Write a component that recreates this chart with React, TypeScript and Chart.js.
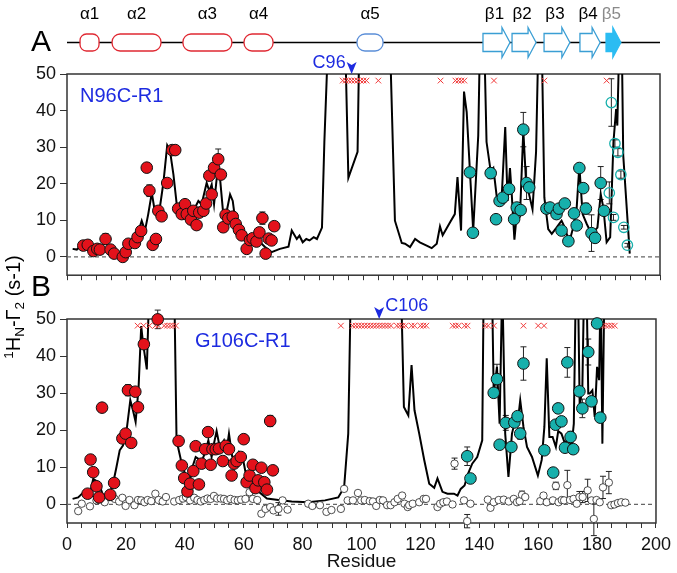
import React, { useEffect, useRef } from 'react';
import { Chart, registerables } from 'chart.js';

Chart.register(...registerables);

const FONT = "'Liberation Sans', Arial, Helvetica, sans-serif";
const BLUE = '#1d2be0';
const RED = '#e3121b';
const CROSS_RED = '#f03a3a';
const TEAL = '#17b0ac';
const HELIX_RED = '#e02832';
const HELIX_BLUE = '#5b8ed8';
const STRAND_BLUE = '#3a9ed4';
const STRAND_FILL = '#2bbcf2';

// ---------- axis ticks ----------
const xLabelTicks = [0, 20, 40, 60, 80, 100, 120, 140, 160, 180, 200];
const xMinorStep = 5;
const yTicks = [0, 10, 20, 30, 40, 50];

// ---------- secondary structure (residue ranges) ----------
const helixLabels = ['α1', 'α2', 'α3', 'α4', 'α5'];
const helixStart = [4.4, 15.2, 39.1, 59.7, 97.8];
const helixEnd = [10.8, 31.7, 55.6, 69.5, 106.6];
const strandLabels = ['β1', 'β2', 'β3', 'β4', 'β5'];
const strandStart = [140.3, 150.1, 160.9, 173.0, 181.8];
const strandEnd = [149.4, 158.2, 169.6, 179.8, 186.8];

// ---------- Panel A: N96C-R1 ----------
const lineA: [number, number][] = [
  [1.9, 2.2], [3.3, 2.0], [5.5, 3.6], [7.8, 2.7], [10.0, 1.8], [12.3, 2.2], [14.5, 1.6], [16.8, 1.3],
  [18.8, 0.2], [20.1, 2.2], [21.8, 4.0], [23.5, 5.4], [25.2, 9.9], [26.3, 7.2], [27.4, 11.7], [28.6, 17.5],
  [29.7, 12.1], [31.0, 11.7], [32.5, 20.2], [33.8, 30.5], [34.7, 29.2], [35.9, 22.5], [37.0, 14.4],
  [38.7, 12.6], [40.4, 13.5], [42.0, 13.0], [43.2, 13.5], [44.3, 15.3], [45.4, 14.4], [47.1, 20.2],
  [48.0, 18.0], [48.8, 19.8], [49.6, 14.4], [50.5, 21.6], [51.4, 23.4], [52.7, 11.7], [53.9, 12.6],
  [55.0, 17.1], [55.9, 15.3], [56.7, 10.3], [58.4, 7.2], [60.0, 4.9], [61.7, 3.6], [63.4, 4.0],
  [65.1, 4.0], [66.8, 2.7], [69.0, 1.3], [71.8, 2.2], [74.7, 2.8], [75.8, 7.2], [77.5, 4.9], [78.4, 5.8],
  [79.5, 4.0], [80.7, 4.9], [81.8, 4.5], [83.2, 5.4], [84.3, 4.9], [86.0, 8.0], [86.8, 31.4], [88.1, 60],
  [93.8, 60], [94.9, 21.6], [98.0, 28.7], [98.6, 60], [108.9, 60], [110.6, 9.9], [112.9, 3.8],
  [114.0, 3.6], [115.7, 2.7], [117.4, 4.9], [119.0, 4.0], [121.3, 3.1], [123.0, 2.4], [124.7, 3.6],
  [125.8, 8.3], [126.7, 5.9], [129.2, 9.5], [130.8, 11.7], [131.7, 21.8], [132.9, 7.2], [133.9, 45.2],
  [134.8, 39.6], [137.0, 7.2], [138.7, 33.2], [139.3, 60], [140.7, 60], [141.5, 31.4], [142.9, 23.4],
  [143.8, 24.3], [145.1, 15.3], [146.6, 16.2], [147.8, 35.5], [148.6, 15.3], [149.4, 24.3], [150.0, 17.1],
  [150.9, 4.7], [151.9, 13.5], [152.8, 11.7], [153.9, 34.6], [154.8, 20.7], [155.6, 18.0], [157.0, 13.0],
  [158.2, 28.7], [159.0, 60], [160.1, 60], [161.0, 16.2], [162.3, 7.6], [163.5, 6.3], [165.1, 8.0],
  [166.8, 9.9], [167.9, 8.0], [169.4, 4.0], [170.7, 8.0], [171.9, 13.5], [172.8, 24.8], [173.9, 11.7],
  [175.3, 9.0], [176.9, 6.3], [178.9, 8.0], [180.0, 17.1], [180.9, 13.5], [182.0, 4.0], [183.2, 5.4],
  [184.3, 31.4], [185.2, 40.4], [185.6, 35.9], [186.3, 60], [187.1, 60], [187.6, 27.8], [189.8, 0.9],
];

const redA: [number, number, number][] = [
  [5.5, 3.1, 0.5], [7.0, 3.3, 0.5], [8.9, 1.6, 0.5], [10.2, 2.2, 0.5], [11.1, 2.0, 0.5], [13.0, 4.9, 1.5],
  [14.7, 2.0, 0.5], [15.9, 0.9, 0.5], [18.8, 0.0, 0.5], [19.8, 1.3, 0.5], [20.7, 3.6, 0.5], [22.9, 3.8, 0.5],
  [23.8, 5.4, 0.5], [25.0, 7.1, 0.6], [26.9, 24.4, 0.6], [27.8, 18.1, 1.6], [28.9, 3.3, 0.5], [30.0, 4.9, 0.5],
  [30.8, 12.6, 0.6], [31.9, 11.1, 0.5], [33.8, 20.2, 0.6], [35.5, 29.2, 0.6], [36.5, 29.2, 0.6],
  [37.5, 13.2, 0.5], [38.7, 11.7, 0.5], [39.8, 14.4, 0.5], [40.4, 11.7, 0.5], [41.8, 10.2, 0.5],
  [42.6, 12.6, 0.5], [43.7, 8.7, 0.5], [44.6, 12.1, 0.6], [46.0, 12.6, 0.5], [46.9, 14.6, 0.5],
  [48.0, 22.2, 1.0], [48.8, 17.1, 0.6], [49.6, 24.4, 1.0], [51.0, 26.7, 2.8], [51.9, 22.5, 1.0],
  [52.7, 8.1, 1.2], [53.5, 11.5, 0.6], [54.4, 10.5, 0.5], [55.9, 11.0, 0.6], [56.9, 9.0, 0.5],
  [58.0, 7.4, 0.5], [58.9, 5.9, 0.5], [60.6, 2.2, 0.5], [61.7, 4.6, 0.5], [62.6, 5.1, 0.5], [63.9, 4.2, 0.5],
  [64.9, 6.7, 0.6], [65.9, 10.6, 1.7], [67.0, 0.9, 0.5], [68.0, 5.0, 0.5], [69.0, 4.5, 0.6], [69.9, 8.4, 0.5],
];

const tealA: [number, number, number][] = [
  [135.9, 23.1, 0.5], [136.9, 6.6, 0.5], [142.9, 22.9, 1.5], [144.7, 10.3, 0.5], [145.9, 15.3, 0.5],
  [147.0, 16.2, 0.5], [149.1, 18.6, 0.5], [150.8, 10.3, 0.6], [151.7, 13.5, 0.6], [153.0, 12.8, 0.6],
  [153.9, 34.8, 4.7], [155.0, 20.2, 4.5], [155.9, 19.0, 1.0], [161.7, 13.2, 0.5], [162.9, 13.5, 0.5],
  [165.1, 11.7, 0.5], [165.9, 13.2, 0.5], [166.8, 7.2, 0.5], [167.9, 14.6, 0.5], [169.1, 4.3, 0.5],
  [171.0, 11.9, 0.5], [171.9, 8.6, 0.5], [172.8, 24.3, 1.0], [174.1, 18.8, 0.5], [175.0, 13.2, 1.5],
  [176.9, 6.5, 5.0], [178.1, 5.2, 0.5], [180.0, 20.2, 4.5], [181.1, 12.6, 0.5],
];

const tealOpenA: [number, number, number][] = [
  [182.9, 17.5, 3.0], [183.6, 42.2, 6.5], [184.3, 10.8, 0.8], [184.8, 31.0, 1.0], [185.8, 28.6, 1.0],
  [186.8, 22.5, 1.0], [187.8, 8.1, 0.5], [189.0, 3.2, 0.5],
];

const crossA = [93, 94, 95, 96, 97, 98, 99, 100, 101, 105, 126, 131, 132, 133, 134, 144, 161, 182];

// ---------- Panel B: G106C-R1 ----------
const lineB: [number, number][] = [
  [1.9, 1.5], [3.8, 1.9], [6.0, 3.6], [7.8, 2.9], [8.9, 6.9], [10.6, 6.0], [12.3, 2.4], [14.0, 2.9],
  [15.4, 4.7], [16.8, 10.1], [17.9, 14.6], [19.0, 15.9], [20.1, 19.1], [21.5, 28.1], [22.4, 25.4],
  [23.3, 22.3], [24.3, 31.4], [25.2, 48.1], [25.8, 43.6], [27.1, 36.4], [28.0, 60], [36.4, 60],
  [37.2, 17.3], [38.7, 11.9], [40.4, 7.4], [41.5, 5.1], [42.6, 10.1], [43.7, 12.8], [44.6, 12.3],
  [45.7, 11.4], [46.9, 14.1], [48.0, 17.3], [49.1, 12.8], [49.9, 16.4], [50.8, 19.8], [51.9, 15.3],
  [53.3, 17.3], [54.2, 14.6], [55.0, 19.1], [56.1, 12.9], [57.2, 12.4], [58.4, 14.2], [59.5, 13.3],
  [60.6, 8.8], [62.3, 6.1], [64.0, 4.3], [65.7, 3.0], [67.9, 1.6], [71.8, 1.2], [76.3, 0.8], [81.9, 0.6],
  [87.6, 1.1], [92.1, 1.9], [94.1, 4.6], [95.5, 19.1], [96.4, 60], [113.4, 60], [114.4, 26.3],
  [115.9, 24.0], [117.0, 37.6], [118.0, 25.4], [119.6, 19.1], [121.3, 12.0], [123.0, 5.6], [124.7, 4.5],
  [125.8, 7.0], [127.5, 3.4], [129.2, 2.9], [131.4, 2.9], [132.6, 2.4], [133.7, 4.2], [135.0, 5.1],
  [136.2, 8.3], [137.6, 11.0], [139.3, 12.8], [141.0, 17.3], [141.5, 60], [144.3, 60], [144.9, 29.9],
  [146.0, 37.1], [146.9, 21.8], [147.8, 60], [148.8, 19.1], [149.9, 7.4], [151.1, 19.1], [152.2, 22.7],
  [153.0, 21.8], [153.9, 28.1], [155.0, 20.9], [156.2, 15.5], [157.9, 12.8], [159.9, 7.8], [161.2, 12.0],
  [162.1, 20.9], [162.9, 39.4], [163.8, 18.2], [164.9, 18.2], [166.0, 15.5], [166.8, 19.8], [167.9, 19.1],
  [169.1, 16.4], [170.2, 18.2], [171.3, 15.5], [172.1, 21.8], [172.8, 60], [173.5, 60], [174.1, 26.3],
  [175.0, 31.7], [175.6, 60], [176.4, 60], [177.0, 29.9], [177.5, 29.9], [178.4, 30.8], [179.2, 23.6],
  [180.0, 37.1], [180.7, 33.5], [181.2, 60], [181.8, 16.4], [182.5, 60],
];

const redB: [number, number, number][] = [
  [7.0, 2.9, 0.5], [8.0, 12.1, 0.5], [8.9, 8.7, 0.5], [10.0, 4.9, 0.5], [10.9, 1.9, 0.5], [11.9, 26.1, 0.5],
  [14.7, 2.6, 0.5], [16.0, 5.8, 0.5], [18.8, 17.8, 0.5], [19.9, 19.1, 0.6], [20.7, 30.8, 1.5],
  [21.8, 16.6, 0.5], [23.2, 30.4, 0.6], [24.1, 26.2, 0.6], [26.1, 43.2, 0.6], [30.8, 49.9, 2.5],
  [37.9, 17.1, 0.5], [39.0, 10.5, 0.5], [39.8, 7.1, 0.5], [40.9, 3.5, 0.5], [41.8, 5.6, 0.5],
  [42.9, 9.0, 0.5], [43.7, 15.7, 0.5], [44.8, 5.4, 0.5], [45.7, 11.0, 0.5], [46.9, 14.9, 0.5],
  [47.9, 19.5, 0.5], [48.8, 10.7, 0.5], [49.4, 14.9, 0.5], [50.5, 14.9, 0.5], [51.6, 15.1, 0.5],
  [52.9, 11.7, 0.5], [53.9, 15.8, 0.5], [55.0, 14.9, 0.5], [55.9, 7.8, 0.5], [56.7, 11.0, 0.5],
  [57.6, 11.7, 0.5], [59.0, 12.8, 0.5], [60.0, 17.6, 0.5], [61.0, 6.0, 0.5], [62.0, 7.8, 0.5],
  [63.1, 10.7, 0.5], [64.0, 4.4, 0.5], [64.9, 6.5, 0.5], [66.0, 9.9, 0.5], [67.0, 6.0, 0.5],
  [67.9, 4.0, 0.6], [69.0, 22.5, 1.5], [69.9, 9.2, 0.5],
];

const tealB: [number, number, number][] = [
  [135.9, 13.0, 2.5], [137.0, 7.0, 0.5], [144.9, 30.1, 0.5], [146.0, 33.8, 4.0], [146.9, 16.1, 0.6],
  [149.0, 22.0, 2.0], [150.9, 15.5, 0.5], [151.9, 22.1, 0.5], [153.0, 23.8, 0.5], [153.9, 19.1, 1.5],
  [155.0, 38.0, 4.5], [162.1, 14.6, 0.5], [165.1, 8.6, 1.0], [165.9, 21.5, 1.0], [166.8, 25.9, 0.5],
  [167.9, 22.4, 0.5], [169.1, 15.3, 0.5], [169.9, 38.3, 4.0], [171.0, 18.2, 1.5], [171.9, 14.9, 0.5],
  [174.0, 30.5, 0.5], [175.0, 25.9, 2.5], [177.0, 41.1, 3.5], [178.1, 27.8, 0.5], [180.0, 48.8, 0.5],
  [181.1, 23.4, 0.5],
];

const openB: [number, number, number][] = [
  [3.8, -1.8, 0], [5.0, 0.2, 0], [7.8, -0.5, 0], [10.0, 1.1, 0], [11.1, 1.5, 0], [12.8, 0.6, 0],
  [14.5, 2.0, 0], [16.2, 1.5, 0], [17.7, 0.8, 0], [18.8, 1.8, 0], [19.9, -0.4, 0], [21.2, 1.2, 0],
  [22.9, -0.2, 0], [24.1, 1.2, 0], [25.2, 1.1, 0], [26.3, 0.6, 0], [27.4, 1.2, 0], [28.6, 0.9, 0],
  [30.0, 2.9, 0], [31.1, 1.2, 0], [32.5, 0.8, 0], [33.6, 2.0, 0], [36.4, 0.8, 0], [38.1, 1.2, 0],
  [39.4, 1.6, 0], [40.4, 2.0, 0], [41.8, 1.1, 0], [43.2, 1.8, 0], [44.3, 1.2, 0], [45.4, 0.8, 0],
  [46.6, 1.2, 0], [47.7, 1.6, 0], [48.8, 1.5, 0], [49.9, 2.3, 0], [51.0, 1.6, 0], [52.2, 1.6, 0],
  [53.3, 1.5, 0], [54.4, 1.1, 0], [55.5, 1.5, 0], [56.9, 1.2, 0], [58.0, 1.1, 0], [59.1, 1.3, 0],
  [60.6, 1.5, 0], [62.0, 3.3, 0], [63.1, 1.5, 0], [64.6, 1.2, 0], [66.0, -2.5, 0], [67.4, -1.2, 0],
  [69.0, -0.7, 0], [70.1, -1.6, 0], [71.8, -1.2, 1.7], [73.2, 1.1, 0], [74.9, -1.4, 0], [81.9, 0.2, 0],
  [83.3, -0.4, 0], [85.9, -0.2, 0], [88.1, -2.0, 0], [89.8, -1.5, 0], [93.0, -1.2, 0], [94.1, 4.2, 0],
  [95.3, 1.1, 0], [97.1, 1.1, 0], [98.8, 3.1, 0], [99.9, 1.1, 0], [101.1, 1.2, 0], [102.8, 0.9, 0],
  [103.9, 0.8, 0], [105.0, -0.4, 0], [106.2, 1.2, 0], [107.3, 1.1, 0], [108.7, -0.2, 0], [109.9, -0.2, 0],
  [111.2, 0.6, 0], [112.3, 1.5, 0], [113.8, 2.4, 0], [114.6, 0.2, 0], [115.7, -0.7, 0], [116.2, -0.2, 0],
  [117.4, 0.2, 0], [119.6, 0.6, 0], [121.1, 1.5, 0], [121.9, 1.5, 0], [125.8, -0.7, 0], [126.7, 0.2, 0],
  [127.8, 0.6, 0], [129.0, 0.8, 0], [130.9, 0.0, 0], [131.6, 11.0, 1.5], [134.8, 1.1, 0],
  [135.9, -4.5, 1.8], [137.0, 0.2, 0], [142.9, 1.3, 0], [143.8, -0.9, 0], [144.9, 0.6, 0], [146.6, 1.2, 0],
  [148.3, 1.3, 0], [150.0, 0.8, 0], [151.7, 1.5, 0], [152.8, 0.6, 0], [153.7, 0.9, 0], [154.5, 2.6, 1.0],
  [155.6, 2.0, 0], [160.7, 0.9, 0], [161.8, 2.4, 0], [162.9, 0.6, 0], [165.0, 1.1, 0], [166.0, 5.0, 1.0],
  [166.9, 0.6, 0], [168.0, 1.2, 0], [168.8, 1.1, 0], [169.9, 5.2, 4.0], [170.8, 1.2, 0], [172.0, 1.5, 0],
  [173.1, 0.2, 0], [174.0, 2.0, 1.5], [175.1, 2.0, 1.5], [176.8, 3.8, 3.0], [178.1, 1.1, 0],
  [178.9, -3.9, 4.5], [179.8, 1.2, 0], [180.9, 0.6, 0], [182.0, 4.6, 3.0], [184.0, 5.9, 3.0],
  [184.8, -0.2, 0], [185.9, 0.0, 0], [187.1, 0.4, 0], [188.2, 0.6, 0], [189.6, 0.5, 0],
];

const crossB = [
  24, 26, 28, 30, 31, 33, 34, 35, 36, 37, 93, 97, 98, 99, 100, 101, 102, 103, 104, 105, 106, 107, 108,
  109, 110, 112, 113, 114, 115, 117, 118, 120, 121, 122, 131, 132, 133, 135, 136, 142, 143, 145, 155,
  160, 162, 181, 182, 183, 184, 185, 186,
];
const crossLevel = 48.2;

// ---------- helpers ----------
const pts = (arr: number[][]) => arr.map((p) => ({ x: p[0], y: p[1] }));

function roundRect(ctx: CanvasRenderingContext2D, x: number, y: number, w: number, h: number, r: number) {
  ctx.beginPath();
  ctx.moveTo(x + r, y);
  ctx.lineTo(x + w - r, y);
  ctx.arc(x + w - r, y + r, r, -Math.PI / 2, 0);
  ctx.lineTo(x + w, y + h - r);
  ctx.arc(x + w - r, y + h - r, r, 0, Math.PI / 2);
  ctx.lineTo(x + r, y + h);
  ctx.arc(x + r, y + h - r, r, Math.PI / 2, Math.PI);
  ctx.lineTo(x, y + r);
  ctx.arc(x + r, y + r, r, Math.PI, Math.PI * 1.5);
  ctx.closePath();
}

function drawDownArrow(ctx: CanvasRenderingContext2D, x: number, tipY: number) {
  ctx.save();
  ctx.fillStyle = BLUE;
  ctx.beginPath();
  ctx.moveTo(x, tipY);
  ctx.lineTo(x - 5, tipY - 12);
  ctx.lineTo(x, tipY - 9);
  ctx.lineTo(x + 5, tipY - 12);
  ctx.closePath();
  ctx.fill();
  ctx.restore();
}

function drawYTitle(ctx: CanvasRenderingContext2D, cx: number, cy: number) {
  const parts = [
    { t: '1', s: 13.5, dy: -7.5 },
    { t: 'H', s: 20, dy: 0 },
    { t: 'N', s: 13.5, dy: 4 },
    { t: '-Γ', s: 20, dy: 0 },
    { t: '2', s: 13.5, dy: 4 },
    { t: ' (s-1)', s: 20, dy: 0 },
  ];
  ctx.save();
  ctx.translate(cx, cy);
  ctx.rotate(-Math.PI / 2);
  ctx.fillStyle = '#000';
  ctx.textBaseline = 'alphabetic';
  ctx.textAlign = 'left';
  let total = 0;
  const widths = parts.map((p) => {
    ctx.font = `${p.s}px ${FONT}`;
    const w = ctx.measureText(p.t).width;
    total += w;
    return w;
  });
  let x = -total / 2;
  parts.forEach((p, i) => {
    ctx.font = `${p.s}px ${FONT}`;
    ctx.fillText(p.t, x, 7 + p.dy);
    x += widths[i];
  });
  ctx.restore();
}

function makeDecorPlugin(draw: (chart: any) => void) {
  return {
    id: 'panelDecor',
    beforeDatasetsDraw(chart: any) {
      const { ctx, chartArea: a, scales } = chart;
      const y = scales.y;
      const x = scales.x;
      ctx.save();
      ctx.strokeStyle = '#333';
      ctx.lineWidth = 1.5;
      ctx.strokeRect(a.left, a.top, a.right - a.left, a.bottom - a.top);
      const y0 = y.getPixelForValue(0);
      ctx.strokeStyle = '#666';
      ctx.lineWidth = 1.2;
      ctx.setLineDash([4, 3]);
      ctx.beginPath();
      ctx.moveTo(a.left, y0);
      ctx.lineTo(a.right, y0);
      ctx.stroke();
      ctx.setLineDash([]);
      ctx.strokeStyle = '#222';
      ctx.lineWidth = 1;
      chart.data.datasets.forEach((ds: any) => {
        if (!ds.errs) return;
        ds.data.forEach((p: any, i: number) => {
          const e = ds.errs[i];
          if (!e) return;
          const px = x.getPixelForValue(p.x);
          const yt = y.getPixelForValue(p.y + e);
          const yb = y.getPixelForValue(p.y - e);
          ctx.beginPath();
          ctx.moveTo(px, yt);
          ctx.lineTo(px, yb);
          ctx.moveTo(px - 3, yt);
          ctx.lineTo(px + 3, yt);
          ctx.moveTo(px - 3, yb);
          ctx.lineTo(px + 3, yb);
          ctx.stroke();
        });
      });
      ctx.restore();
    },
    afterDraw(chart: any) {
      draw(chart);
    },
  };
}

function drawStructure(chart: any) {
  const { ctx, scales } = chart;
  const x = scales.x;
  const cy = 42.5;
  ctx.save();
  ctx.strokeStyle = '#000';
  ctx.lineWidth = 1.4;
  ctx.beginPath();
  ctx.moveTo(x.getPixelForValue(0), cy);
  ctx.lineTo(x.getPixelForValue(200), cy);
  ctx.stroke();
  ctx.font = `17px ${FONT}`;
  ctx.textAlign = 'center';
  ctx.textBaseline = 'middle';
  helixLabels.forEach((lab, i) => {
    const x0 = x.getPixelForValue(helixStart[i]);
    const x1 = x.getPixelForValue(helixEnd[i]);
    const w = x1 - x0;
    const h = 17;
    const r = Math.min(8, w / 3);
    roundRect(ctx, x0, cy - h / 2, w, h, r);
    ctx.fillStyle = '#fff';
    ctx.fill();
    ctx.strokeStyle = i === 4 ? HELIX_BLUE : HELIX_RED;
    ctx.lineWidth = 1.3;
    ctx.stroke();
    ctx.fillStyle = '#000';
    ctx.fillText(lab, (x0 + x1) / 2, 14);
  });
  strandLabels.forEach((lab, i) => {
    const x0 = x.getPixelForValue(strandStart[i]);
    const x1 = x.getPixelForValue(strandEnd[i]);
    const head = 8;
    ctx.beginPath();
    ctx.moveTo(x0, cy - 9);
    ctx.lineTo(x1 - head, cy - 9);
    ctx.lineTo(x1 - head, cy - 15);
    ctx.lineTo(x1, cy);
    ctx.lineTo(x1 - head, cy + 15);
    ctx.lineTo(x1 - head, cy + 9);
    ctx.lineTo(x0, cy + 9);
    ctx.closePath();
    ctx.fillStyle = i === 4 ? STRAND_FILL : '#fff';
    ctx.fill();
    ctx.strokeStyle = i === 4 ? STRAND_FILL : STRAND_BLUE;
    ctx.lineWidth = 1.3;
    ctx.stroke();
    ctx.fillStyle = i === 4 ? '#8a8a8a' : '#000';
    ctx.fillText(lab, (x0 + x1) / 2 - 2, 14);
  });
  ctx.restore();
}

function drawPanelA(chart: any) {
  const { ctx, chartArea: a, scales } = chart;
  drawStructure(chart);
  ctx.save();
  ctx.fillStyle = '#000';
  ctx.font = `30px ${FONT}`;
  ctx.textAlign = 'center';
  ctx.textBaseline = 'middle';
  ctx.fillText('A', 41, 43);
  ctx.fillStyle = BLUE;
  ctx.font = `20px ${FONT}`;
  ctx.textAlign = 'left';
  ctx.fillText('N96C-R1', 80, 96);
  const ax = scales.x.getPixelForValue(96);
  drawDownArrow(ctx, ax, a.top);
  ctx.font = `18px ${FONT}`;
  ctx.textAlign = 'right';
  ctx.fillText('C96', ax - 6, 63);
  ctx.restore();
}

function drawPanelB(chart: any) {
  const { ctx, chartArea: a, scales } = chart;
  ctx.save();
  ctx.fillStyle = '#000';
  ctx.font = `30px ${FONT}`;
  ctx.textAlign = 'center';
  ctx.textBaseline = 'middle';
  ctx.fillText('B', 41, 48);
  drawYTitle(ctx, 13, 67);
  ctx.fillStyle = BLUE;
  ctx.font = `20px ${FONT}`;
  ctx.textAlign = 'left';
  ctx.fillText('G106C-R1', 195, 101);
  const ax = scales.x.getPixelForValue(106);
  drawDownArrow(ctx, ax, a.top);
  ctx.font = `18px ${FONT}`;
  ctx.textAlign = 'left';
  ctx.fillText('C106', ax + 6, 66);
  ctx.restore();
}

type Pt3 = [number, number, number][];

function buildConfig(spec: {
  line: [number, number][];
  red: Pt3;
  teal: Pt3;
  tealOpen?: Pt3;
  open?: Pt3;
  crosses: number[];
  padTop: number;
  xHeight: number;
  showLabels: boolean;
  draw: (c: any) => void;
}) {
  const datasets: any[] = [
    {
      data: pts(spec.line),
      showLine: true,
      borderColor: '#000',
      backgroundColor: '#000',
      borderWidth: 2,
      pointRadius: 0,
      clip: 0,
      order: 10,
    },
  ];
  if (spec.open) {
    datasets.push({
      data: pts(spec.open),
      errs: spec.open.map((p) => p[2]),
      pointRadius: 3.7,
      backgroundColor: '#fff',
      borderColor: '#222',
      borderWidth: 0.8,
      clip: false,
      order: 8,
    });
  }
  datasets.push({
    data: spec.crosses.map((r) => ({ x: r, y: crossLevel })),
    pointStyle: 'crossRot',
    pointRadius: 4,
    borderColor: CROSS_RED,
    backgroundColor: CROSS_RED,
    borderWidth: 1,
    clip: false,
    order: 7,
  });
  if (spec.tealOpen) {
    datasets.push({
      data: pts(spec.tealOpen),
      errs: spec.tealOpen.map((p) => p[2]),
      pointRadius: 5.2,
      backgroundColor: 'rgba(255,255,255,0)',
      borderColor: TEAL,
      borderWidth: 1.3,
      clip: false,
      order: 6,
    });
  }
  datasets.push({
    data: pts(spec.teal),
    errs: spec.teal.map((p) => p[2]),
    pointRadius: 5.8,
    backgroundColor: TEAL,
    borderColor: '#111',
    borderWidth: 1,
    clip: false,
    order: 5,
  });
  datasets.push({
    data: pts(spec.red),
    errs: spec.red.map((p) => p[2]),
    pointRadius: 5.8,
    backgroundColor: RED,
    borderColor: '#111',
    borderWidth: 1,
    clip: false,
    order: 4,
  });

  const minorTicks: number[] = [];
  for (let v = xLabelTicks[0]; v <= xLabelTicks[xLabelTicks.length - 1]; v += xMinorStep) minorTicks.push(v);

  return {
    type: 'scatter',
    data: { datasets },
    plugins: [makeDecorPlugin(spec.draw)],
    options: {
      responsive: false,
      animation: false,
      devicePixelRatio: 1,
      events: [],
      layout: { padding: { top: spec.padTop, right: 17, left: 0, bottom: 0 } },
      plugins: {
        legend: { display: false },
        tooltip: { enabled: false },
      },
      scales: {
        x: {
          type: 'linear',
          min: 0,
          max: 200,
          afterBuildTicks: (s: any) => {
            s.ticks = minorTicks.map((v) => ({ value: v }));
          },
          afterFit: (s: any) => {
            s.height = spec.xHeight;
          },
          border: { display: false },
          grid: {
            drawOnChartArea: false,
            drawTicks: true,
            tickLength: 5,
            color: '#333',
            lineWidth: 1,
          },
          ticks: {
            autoSkip: false,
            maxRotation: 0,
            minRotation: 0,
            padding: 6,
            color: '#111',
            font: { family: FONT, size: 18 },
            callback: (v: any) => (spec.showLabels && xLabelTicks.includes(v) ? String(v) : ''),
          },
          title: {
            display: spec.showLabels,
            text: 'Residue',
            color: '#111',
            font: { family: FONT, size: 19 },
            padding: { top: 0, bottom: 0 },
          },
        },
        y: {
          type: 'linear',
          min: -5,
          max: 50,
          afterBuildTicks: (s: any) => {
            s.ticks = yTicks.map((v) => ({ value: v }));
          },
          afterFit: (s: any) => {
            s.width = 67;
          },
          border: { display: false },
          grid: {
            drawOnChartArea: false,
            drawTicks: true,
            tickLength: 7,
            color: '#333',
            lineWidth: 1,
          },
          ticks: {
            padding: 4,
            color: '#111',
            font: { family: FONT, size: 18 },
            callback: (v: any) => String(v),
          },
        },
      },
    },
  };
}

function Panel(props: { top: number; height: number; config: () => any }) {
  const ref = useRef<HTMLCanvasElement | null>(null);
  useEffect(() => {
    if (!ref.current) return;
    const chart = new Chart(ref.current, props.config() as any);
    return () => chart.destroy();
  }, []);
  return (
    <canvas
      ref={ref}
      width={677}
      height={props.height}
      style={{ position: 'absolute', left: 0, top: props.top, width: 677, height: props.height }}
    />
  );
}

export default function App() {
  return (
    <div style={{ position: 'absolute', left: 0, top: 0, width: 677, height: 573, background: '#fff', overflow: 'hidden' }}>
      <Panel
        top={0}
        height={290}
        config={() =>
          buildConfig({
            line: lineA,
            red: redA,
            teal: tealA,
            tealOpen: tealOpenA,
            crosses: crossA,
            padTop: 74,
            xHeight: 12,
            showLabels: false,
            draw: drawPanelA,
          })
        }
      />
      <Panel
        top={240}
        height={333}
        config={() =>
          buildConfig({
            line: lineB,
            red: redB,
            teal: tealB,
            open: openB,
            crosses: crossB,
            padTop: 79,
            xHeight: 50,
            showLabels: true,
            draw: drawPanelB,
          })
        }
      />
    </div>
  );
}
